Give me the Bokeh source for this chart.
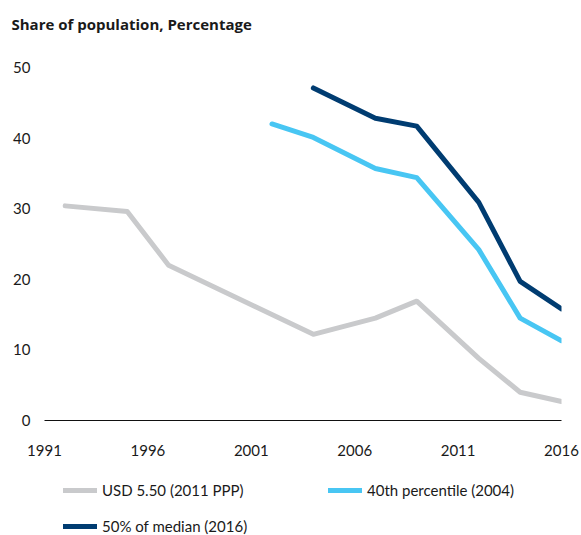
from bokeh.plotting import figure
from bokeh.layouts import column
from bokeh.models import Range1d, FixedTicker, Legend, LegendItem, Title
from bokeh.embed import file_html
from bokeh.resources import INLINE

# ---- data ----
years_usd = [1992, 1995, 1997, 2004, 2007, 2009, 2012, 2014, 2016]
usd_550 = [30.4, 29.6, 22.0, 12.2, 14.5, 16.9, 8.8, 4.0, 2.7]

years_p40 = [2002, 2004, 2007, 2009, 2012, 2014, 2016]
pct40 = [42.0, 40.1, 35.7, 34.4, 24.2, 14.5, 11.3]

years_med = [2004, 2007, 2009, 2012, 2014, 2016]
med50 = [47.1, 42.8, 41.7, 30.9, 19.7, 15.8]

x_ticks = [1991, 1996, 2001, 2006, 2011, 2016]
y_ticks = [0, 10, 20, 30, 40, 50]

labels = ["USD 5.50 (2011 PPP)", "40th percentile (2004)", "50% of median (2016)"]
colors = ["#c9cacc", "#48c6f3", "#003c71"]
title_text = "Share of population, Percentage"

FONT = "Lato"
TXT = "#1a1a1a"

series = [(years_usd, usd_550), (years_p40, pct40), (years_med, med50)]

# ---- main chart ----
p = figure(width=581, height=470, output_backend="svg", toolbar_location=None,
           x_range=Range1d(1991, 2016), y_range=Range1d(0, 50),
           min_border_left=44, min_border_right=20, min_border_top=67,
           min_border_bottom=50, title=None)

p.add_layout(Title(text=" ", text_font_size="16px"), "above")
p.add_layout(Title(text=title_text, text_font="Open Sans", text_font_size="15px",
                   text_font_style="bold", text_color=TXT, align="left", offset=-33),
             "above")

p.outline_line_color = None
p.xgrid.visible = False
p.ygrid.visible = False

line_kw = dict(line_width=5, line_cap="round", line_join="round")
for (xs, ys), c in zip(series, colors):
    p.line(xs, ys, line_color=c, **line_kw)

xa = p.xaxis[0]
xa.ticker = FixedTicker(ticks=x_ticks)
xa.axis_line_color = "#111111"
xa.axis_line_width = 1
xa.major_tick_line_color = None
xa.minor_tick_line_color = None
xa.major_tick_out = 0
xa.major_tick_in = 0
xa.major_label_standoff = 24
xa.major_label_text_font = FONT
xa.major_label_text_font_size = "15px"
xa.major_label_text_color = TXT

ya = p.yaxis[0]
ya.ticker = FixedTicker(ticks=y_ticks)
ya.axis_line_color = None
ya.major_tick_line_color = None
ya.minor_tick_line_color = None
ya.major_tick_out = 0
ya.major_tick_in = 0
ya.major_label_standoff = 14
ya.major_label_text_font = FONT
ya.major_label_text_font_size = "15px"
ya.major_label_text_color = TXT

# ---- legend strip (same series, drawn out of view; only the legend shows) ----
lg = figure(width=581, height=65, output_backend="svg", toolbar_location=None,
            x_range=Range1d(0, 1), y_range=Range1d(0, 1),
            x_axis_location=None, y_axis_location=None,
            min_border_left=0, min_border_right=0, min_border_top=0, min_border_bottom=0)
lg.outline_line_color = None
lg.xgrid.visible = False
lg.ygrid.visible = False
rs = [lg.line(xs, ys, line_color=c, **line_kw) for (xs, ys), c in zip(series, colors)]

legend = Legend(items=[LegendItem(label=lab, renderers=[r]) for lab, r in zip(labels, rs)],
                location=(19, 0), orientation="horizontal", ncols=2)
legend.border_line_color = None
legend.background_fill_alpha = 0
legend.padding = 0
legend.margin = 0
legend.spacing = 18
legend.glyph_width = 34
legend.glyph_height = 16
legend.label_height = 16
legend.label_width = 208
legend.label_standoff = 5
legend.label_text_font = FONT
legend.label_text_font_size = "15px"
legend.label_text_color = TXT
legend.label_text_baseline = "middle"
lg.add_layout(legend, "center")

layout = column(p, lg, spacing=0)
open("out.html", "w").write(file_html(layout, INLINE))
